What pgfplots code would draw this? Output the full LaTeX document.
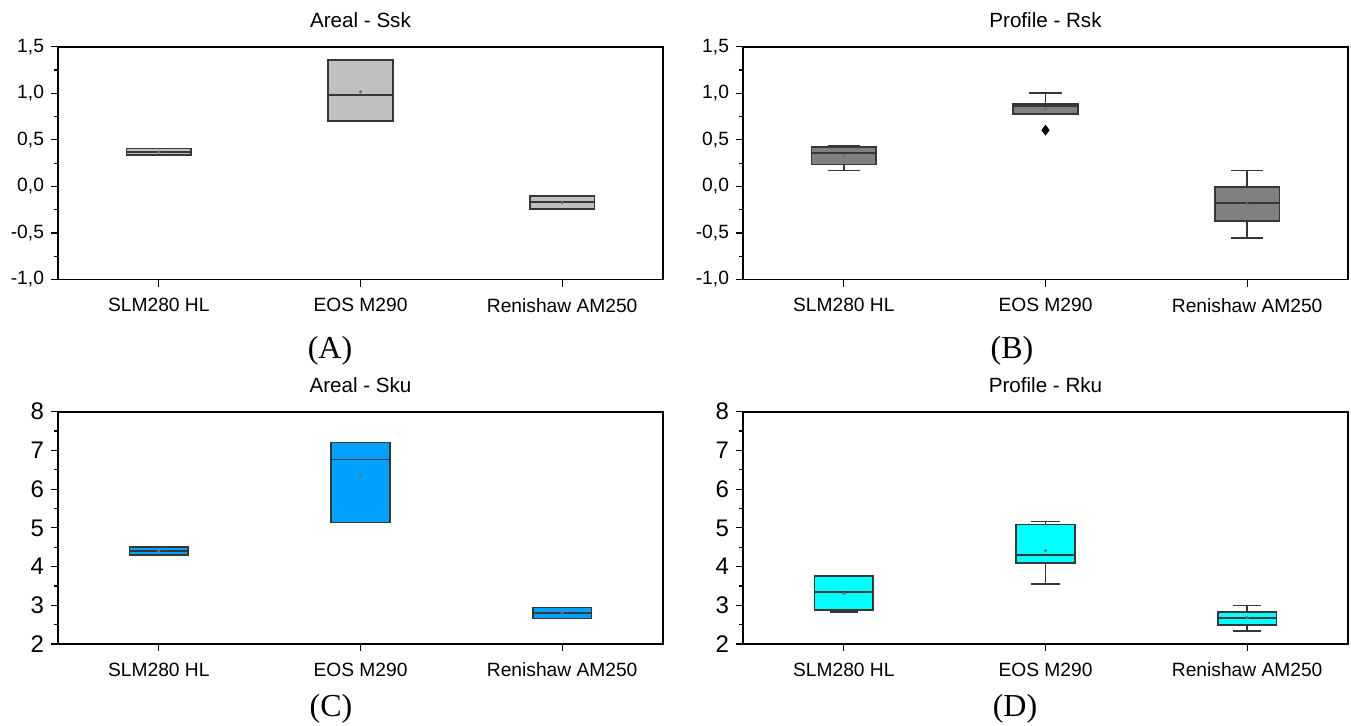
\documentclass[border=0pt]{standalone}
\usepackage{fontspec}
\setmainfont{Liberation Sans}
\newfontfamily\seriffont{Liberation Serif}
\usepackage{pgfplots}
\pgfplotsset{compat=1.18}
\usepgfplotslibrary{statistics}

\definecolor{boxA}{RGB}{192,192,192}
\definecolor{boxB}{RGB}{128,128,128}
\definecolor{boxC}{RGB}{0,160,255}
\definecolor{boxD}{RGB}{0,255,255}
\definecolor{edge}{RGB}{55,55,55}
\definecolor{meanc}{RGB}{110,110,110}

\pgfplotsset{
  panel/.style={
    scale only axis, width=302.5pt, height=116.4pt,
    xmin=0.5, xmax=3.5, xtick={1,2,3},
    xticklabels={SLM280 HL, EOS M290, Renishaw AM250},
    tick pos=left, tick align=outside,
    major tick length=3.5pt, minor tick length=2pt,
    minor y tick num=1, minor x tick num=0,
    axis line style={line width=0.85pt, black},
    every tick/.style={black, line width=0.6pt},
    tick label style={font=\fontsize{9.6}{10}\selectfont},
    /pgf/number format/assume math mode=true,
    title style={font=\fontsize{10.3}{11}\selectfont, at={(0.5,1)}, anchor=base, yshift=3.5pt},
    xticklabel style={yshift=-2.5pt},
    boxplot/draw direction=y,
  },
  skew/.style={ymin=-1, ymax=1.5, ytick={-1,-0.5,0,0.5,1,1.5},
    yticklabel style={/pgf/number format/.cd, fixed, fixed zerofill, precision=1, use comma}},
  kurt/.style={ymin=2, ymax=8, ytick={2,3,4,5,6,7,8},
    yticklabel style={font=\fontsize{12}{13}\selectfont, /pgf/number format/.cd, fixed, precision=0}},
  bx/.style={fill=#1, draw=edge, line width=0.8pt},
}

\begin{document}
\begin{tikzpicture}
\useasboundingbox (0,0) rectangle (675.5pt,-362.5pt);

% (A) Areal - Ssk
\begin{axis}[panel, skew, at={(29pt,-139.75pt)}, anchor=south west, title={Areal - Ssk},
  boxplot/box extend=0.32, boxplot/whisker extend=0.16]
\addplot[bx=boxA, boxplot prepared={draw position=1, lower whisker=0.34, lower quartile=0.34, median=0.372, upper quartile=0.408, upper whisker=0.408}] coordinates {};
\addplot[bx=boxA, boxplot prepared={draw position=2, lower whisker=0.70, lower quartile=0.70, median=0.98, upper quartile=1.357, upper whisker=1.357}] coordinates {};
\addplot[bx=boxA, boxplot prepared={draw position=3, lower whisker=-0.244, lower quartile=-0.244, median=-0.169, upper quartile=-0.10, upper whisker=-0.10}] coordinates {};
\addplot[only marks, mark=*, mark size=0.6pt, meanc] coordinates {(1,0.37) (2,1.016) (3,-0.175)};
\end{axis}

% (B) Profile - Rsk
\begin{axis}[panel, skew, at={(371.5pt,-139.75pt)}, anchor=south west, title={Profile - Rsk},
  boxplot/box extend=0.32, boxplot/whisker extend=0.16]
\addplot[bx=boxB, boxplot prepared={draw position=1, lower whisker=0.171, lower quartile=0.236, median=0.357, upper quartile=0.422, upper whisker=0.433}] coordinates {};
\addplot[bx=boxB, boxplot prepared={draw position=2, lower whisker=0.777, lower quartile=0.777, median=0.862, upper quartile=0.884, upper whisker=1.006}] coordinates {};
\addplot[bx=boxB, boxplot prepared={draw position=3, lower whisker=-0.552, lower quartile=-0.37, median=-0.176, upper quartile=-0.004, upper whisker=0.171}] coordinates {};
\addplot[only marks, mark=*, mark size=0.6pt, meanc] coordinates {(1,0.329) (2,0.834) (3,-0.19)};
\addplot[only marks, mark=diamond*, mark size=2.4pt, black] coordinates {(2,0.604)};
\end{axis}

% (C) Areal - Sku
\begin{axis}[panel, kurt, at={(29pt,-322pt)}, anchor=south west, height=116.15pt, title={Areal - Sku},
  boxplot/box extend=0.29, boxplot/whisker extend=0.15]
\addplot[bx=boxC, boxplot prepared={draw position=1, lower whisker=4.30, lower quartile=4.30, median=4.40, upper quartile=4.506, upper whisker=4.506}] coordinates {};
\addplot[bx=boxC, boxplot prepared={draw position=2, lower whisker=5.134, lower quartile=5.134, median=6.77, upper quartile=7.20, upper whisker=7.20}] coordinates {};
\addplot[bx=boxC, boxplot prepared={draw position=3, lower whisker=2.66, lower quartile=2.66, median=2.80, upper quartile=2.94, upper whisker=2.94}] coordinates {};
\addplot[only marks, mark=*, mark size=0.6pt, meanc] coordinates {(1,4.40) (2,6.37) (3,2.80)};
\end{axis}

% (D) Profile - Rku
\begin{axis}[panel, kurt, at={(371.5pt,-322pt)}, anchor=south west, height=116.15pt, title={Profile - Rku},
  boxplot/box extend=0.29, boxplot/whisker extend=0.14]
\addplot[bx=boxD, boxplot prepared={draw position=1, lower whisker=2.82, lower quartile=2.88, median=3.344, upper quartile=3.757, upper whisker=3.757}] coordinates {};
\addplot[bx=boxD, boxplot prepared={draw position=2, lower whisker=3.55, lower quartile=4.10, median=4.30, upper quartile=5.09, upper whisker=5.16}] coordinates {};
\addplot[bx=boxD, boxplot prepared={draw position=3, lower whisker=2.34, lower quartile=2.49, median=2.665, upper quartile=2.83, upper whisker=2.99}] coordinates {};
\addplot[only marks, mark=*, mark size=0.6pt, meanc] coordinates {(1,3.31) (2,4.41) (3,2.68)};
\end{axis}

\node[font=\seriffont\fontsize{16}{18}\selectfont, inner sep=0pt] at (165pt,-175.5pt) {(A)};
\node[font=\seriffont\fontsize{16}{18}\selectfont, inner sep=0pt] at (506pt,-175.5pt) {(B)};
\node[font=\seriffont\fontsize{16}{18}\selectfont, inner sep=0pt] at (165.5pt,-354.5pt) {(C)};
\node[font=\seriffont\fontsize{16}{18}\selectfont, inner sep=0pt] at (507.5pt,-354.5pt) {(D)};
\end{tikzpicture}
\end{document}
